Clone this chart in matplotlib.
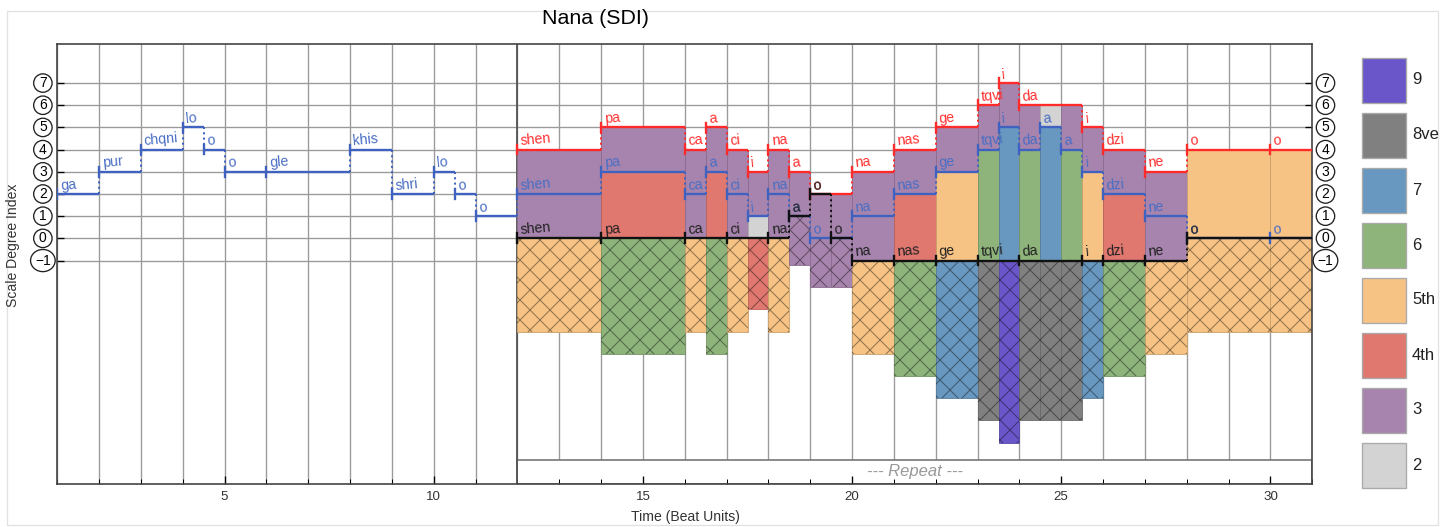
import matplotlib.pyplot as plt
import matplotlib.colors as mcolors
from matplotlib.patches import Rectangle
from matplotlib.transforms import blended_transform_factory

plt.rcParams['font.family'] = ['Liberation Sans', 'DejaVu Sans']
plt.rcParams['hatch.linewidth'] = 0.6

# middle voice: solo up to beat 12, then the middle of three parts
mid_syll = ['ga', 'pur', 'chqni', 'lo', 'o', 'o', 'gle', 'khis', 'shri', 'lo', 'o', 'o',
            'shen', 'pa', 'ca', 'a', 'ci', 'i', 'na', 'a', 'o', 'na', 'nas', 'ge',
            'tqvi', 'i', 'da', 'a', 'a', 'i', 'dzi', 'ne', 'o', 'o']
mid_start = [1, 2, 3, 4, 4.5, 5, 6, 8, 9, 10, 10.5, 11,
             12, 14, 16, 16.5, 17, 17.5, 18, 18.5, 19, 20, 21, 22,
             23, 23.5, 24, 24.5, 25, 25.5, 26, 27, 28, 30]
mid_deg = [2, 3, 4, 5, 4, 3, 3, 4, 2, 3, 2, 1,
           2, 3, 2, 3, 2, 1, 2, 1, 0, 1, 2, 3,
           4, 5, 4, 5, 4, 3, 2, 1, 0, 0]

# top voice
top_syll = ['shen', 'pa', 'ca', 'a', 'ci', 'i', 'na', 'a', 'o', 'na', 'nas', 'ge',
            'tqvi', 'i', 'da', 'i', 'dzi', 'ne', 'o', 'o']
top_start = [12, 14, 16, 16.5, 17, 17.5, 18, 18.5, 19, 20, 21, 22,
             23, 23.5, 24, 25.5, 26, 27, 28, 30]
top_deg = [4, 5, 4, 5, 4, 3, 4, 3, 2, 3, 4, 5, 6, 7, 6, 5, 4, 3, 4, 4]

# bass voice
low_syll = ['shen', 'pa', 'ca', 'ci', 'na', 'a', 'o', 'o', 'na', 'nas', 'ge',
            'tqvi', 'da', 'i', 'dzi', 'ne', 'o']
low_start = [12, 14, 16, 17, 18, 18.5, 19, 19.5, 20, 21, 22, 23, 24, 25.5, 26, 27, 28]
low_deg = [0, 0, 0, 0, 0, 1, 2, 0, -1, -1, -1, -1, -1, -1, -1, -1, 0]

song_end = 31
repeat_start = 12

interval_names = ['9', '8ve', '7', '6', '5th', '4th', '3', '2']
interval_steps = [8, 7, 6, 5, 4, 3, 2, 1]
interval_colors = ['#6A56C8', '#808080', '#6898C0', '#8EB47C',
                   '#F6C385', '#E07870', '#A784AD', '#D3D3D3']
step_color = dict(zip(interval_steps, interval_colors))

degree_ticks = list(range(-1, 8))
ymin, ymax = -11.07, 8.76


def darker(c, f=0.82):
    r, g, b = mcolors.to_rgb(c)
    return (r * f, g * f, b * f)


def degree_at(starts, degs, t):
    d = None
    for s, v in zip(starts, degs):
        if s <= t:
            d = v
    return d


fig = plt.figure(figsize=(1452 / 120, 527 / 120), dpi=120)
ax = fig.add_axes([57.3 / 1452, 43 / 527, 1255 / 1452, 440 / 527])
ax.set_xlim(1, song_end)
ax.set_ylim(ymin, ymax)

# grid
ax.hlines(degree_ticks, 1, song_end, color='#9A9A9A', lw=0.8, zorder=0.5)
for x in range(1, song_end):
    lo_y = ymin if x < repeat_start else -10
    ax.vlines(x, lo_y, ymax, color='#9A9A9A', lw=0.8, zorder=0.5)

# repeat band and section divider
ax.add_patch(Rectangle((repeat_start, ymin), song_end - repeat_start, -10 - ymin,
                       fc='white', ec='#777777', lw=1.0, zorder=1.5))
ax.text((repeat_start + song_end) / 2, -10.5, '--- Repeat ---', color='#999999',
        style='italic', fontsize=10, ha='center', va='center', zorder=1.6)
ax.axvline(repeat_start, color='#555555', lw=1.1, zorder=1.6)

# interval bars between the three voices, with mirrored hatched span below
breaks = sorted(set(top_start + low_start + [s for s in mid_start if s >= repeat_start]))
slice_ends = breaks[1:] + [song_end]
for s, e in zip(breaks, slice_ends):
    t = (s + e) / 2
    lo, md, hi = sorted([degree_at(top_start, top_deg, t),
                         degree_at(mid_start, mid_deg, t),
                         degree_at(low_start, low_deg, t)])
    for b, h in [(lo, md - lo), (md, hi - md)]:
        if h > 0:
            c = step_color[h]
            ax.bar(s, h, width=e - s, bottom=b, align='edge', color=c,
                   edgecolor=darker(c), lw=0.5, zorder=2)
    span = hi - lo
    c = step_color[span]
    ax.bar(s, -(span + 0.2), width=e - s, bottom=lo, align='edge', color=c,
           edgecolor=darker(c), lw=0.5, zorder=2)
    ax.bar(s, -(span + 0.2), width=e - s, bottom=lo, align='edge', facecolor='none',
           edgecolor=(0, 0, 0, 0.42), lw=0, hatch='xx', zorder=2.1)


def draw_voice(syll, starts, degs, end, color, text_color, z):
    ends = starts[1:] + [end]
    prev = None
    prev_end = None
    for name, s, e, d in zip(syll, starts, ends, degs):
        ax.plot([s, e], [d, d], color=color, lw=1.4, zorder=z, solid_capstyle='butt')
        ax.plot([s, s], [d - 0.22, d + 0.22], color=color, lw=1.4, zorder=z)
        if prev is not None and prev != d and prev_end == s:
            ax.plot([s, s], [prev, d], color=color, lw=1.2, ls=':', zorder=z)
        ax.text(s + 0.08, d + 0.2, name, color=text_color, fontsize=8.5, rotation=5,
                rotation_mode='anchor', ha='left', va='baseline', zorder=z + 0.5)
        prev, prev_end = d, e


draw_voice(mid_syll, mid_start, mid_deg, song_end, '#3F62C0', '#4A6EC4', 3)
draw_voice(top_syll, top_start, top_deg, song_end, '#FF2A2A', '#FF3030', 4)
draw_voice(low_syll, low_start, low_deg, song_end, '#111111', '#222222', 5)

# axes styling
for sp in ax.spines.values():
    sp.set_color('#444444')
    sp.set_linewidth(1.0)
ax.set_xticks(range(5, song_end, 5))
ax.set_xticks(range(1, song_end + 1), minor=True)
ax.tick_params(axis='x', which='major', direction='in', length=5, labelsize=8,
               labelcolor='#333333', pad=4)
ax.tick_params(axis='x', which='minor', direction='in', length=3)
ax.set_yticks(degree_ticks)
ax.tick_params(axis='y', direction='in', length=4, left=True, right=True,
               labelleft=False, labelright=False)

# circled scale degree labels on both sides
trans = blended_transform_factory(ax.transAxes, ax.transData)
for d in degree_ticks:
    label = str(d) if d >= 0 else '\u22121'
    style = 'circle,pad=0.16' if d >= 0 else 'ellipse,pad=0.06'
    for xa in (-0.0115, 1.0105):
        ax.text(xa, d, label, transform=trans, ha='center', va='center', fontsize=8.3,
                bbox=dict(boxstyle=style, fc='white', ec='#222222', lw=0.8),
                clip_on=False, zorder=6)

fig.text(595 / 1452, 1 - 18 / 527, 'Nana (SDI)', ha='center', va='center', fontsize=12.8)
fig.text(685 / 1452, 1 - 517 / 527, 'Time (Beat Units)', ha='center', va='center',
         fontsize=8.4, color='#333333')
fig.text(13 / 1452, 1 - 245 / 527, 'Scale Degree Index', ha='center', va='center',
         rotation=90, fontsize=8.4, color='#333333')

# legend
for i, (name, c) in enumerate(zip(interval_names, interval_colors)):
    top_px = 58 + i * 55
    fig.add_artist(Rectangle((1362 / 1452, 1 - (top_px + 44.5) / 527), 44 / 1452, 44.5 / 527,
                             transform=fig.transFigure, fc=c, ec='#AAAAAA', lw=0.8))
    fig.text(1412 / 1452, 1 - (top_px + 22) / 527, name, ha='left', va='center',
             fontsize=10, color='#222222')

# outer frame
fig.add_artist(Rectangle((7 / 1452, 2 / 527), 1431 / 1452, 514 / 527,
                         transform=fig.transFigure, fill=False, ec='#E2E2E2', lw=0.8))

fig.savefig('out.png', dpi=120)
